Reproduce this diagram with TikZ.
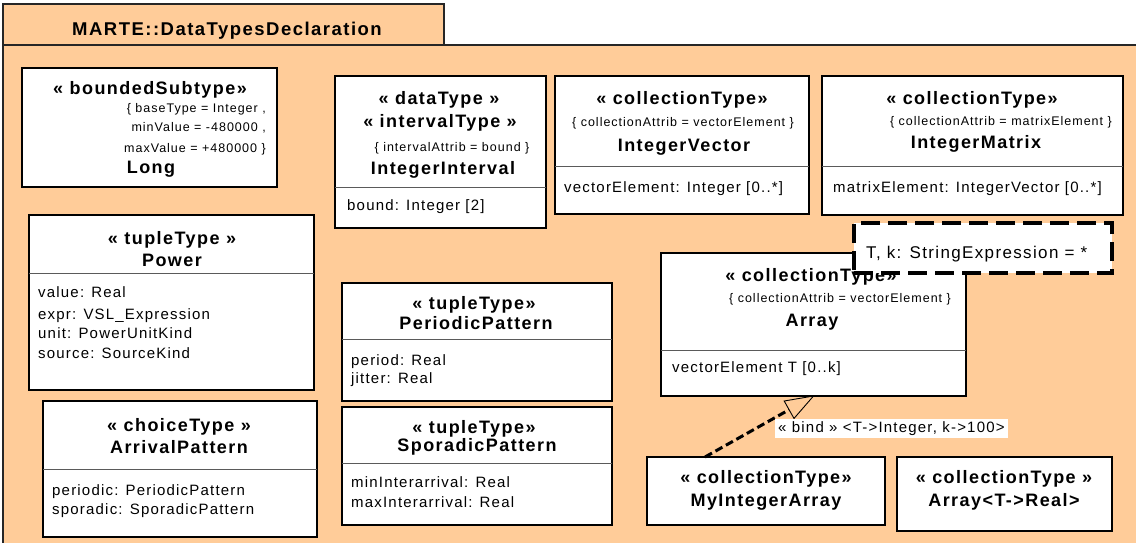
\documentclass[tikz,border=0pt]{standalone}
\usepackage{fontspec}
\setmainfont{Liberation Sans}[LetterSpace=8]
\usetikzlibrary{calc}
\definecolor{peach}{RGB}{255,204,153}
\definecolor{divgray}{RGB}{90,90,90}
\newcommand{\umlbox}[5]{\node[umlrect, minimum width={#4-#2}, minimum height={#5-#3}] (#1) at (#2,#3) {};}
\newcommand{\umldiv}[2]{\draw[divline] (#1.west |- 0,#2) -- (#1.east |- 0,#2);}
\begin{document}
\begin{tikzpicture}[x=1pt,y=-1pt,
  umlrect/.style={draw=black, line width=1.4pt, fill=white, inner sep=0pt, outer sep=0pt, anchor=north west},
  divline/.style={draw=divgray, line width=1pt},
  pkg/.style={draw=black!85, line width=1.4pt, fill=peach, inner sep=0pt, outer sep=0pt, anchor=north west},
  ster/.style={font=\fontsize{18}{20}\selectfont\bfseries, anchor=base, yshift=-6.5pt, inner sep=0pt},
  attr/.style={font=\fontsize{15}{18}\selectfont, anchor=base west, yshift=-5.4pt, inner sep=0pt},
  cons/.style={font=\fontsize{12.5}{14}\selectfont, anchor=base, yshift=-4.5pt, inner sep=0pt},
  consr/.style={cons, anchor=base east},
  tmplbox/.style={draw=black, line width=3.5pt, dash pattern=on 19pt off 8pt, fill=white, inner sep=0pt, outer sep=0pt, anchor=north west},
  bindline/.style={draw=black, line width=3pt, dash pattern=on 8pt off 4pt},
  bindlbl/.style={fill=white, font=\fontsize{15}{18}\selectfont, anchor=west, inner xsep=3pt, inner ysep=0pt, text height=14pt, text depth=5pt}
]
\useasboundingbox (0,0) rectangle (1136,543);
% package frame
\node[pkg, minimum width=1250, minimum height=600] (frame) at (3,45) {};
\node[pkg, minimum width=441, minimum height=41] (tab) at (3,4) {};
\node[font=\fontsize{18.5}{20}\selectfont\bfseries, anchor=base, yshift=-6.7pt, inner sep=0pt] (title) at (227,29) {MARTE::DataTypesDeclaration};

% Long
\umlbox{long}{22}{68}{277}{187}
\node[ster] (long-s) at (150,88) {« boundedSubtype»};
\node[consr] (long-c1) at (266,108) {\{ baseType = Integer ,};
\node[consr] (long-c2) at (266,127) {minValue = -480000 ,};
\node[consr] (long-c3) at (266,148) {maxValue = +480000 \}};
\node[ster] (long-n) at (151,167) {Long};

% IntegerInterval
\umlbox{iint}{335}{76}{546}{228}
\umldiv{iint}{187}
\node[ster] (iint-s1) at (439,98) {« dataType »};
\node[ster] (iint-s2) at (440,121) {« intervalType »};
\node[cons] (iint-c) at (452,147) {\{ intervalAttrib = bound \}};
\node[ster] (iint-n) at (443,168) {IntegerInterval};
\node[attr] (iint-a) at (347,205) {bound: Integer [2]};

% IntegerVector
\umlbox{ivec}{555}{76}{809}{214}
\umldiv{ivec}{166}
\node[ster] (ivec-s) at (682,98) {« collectionType»};
\node[cons] (ivec-c) at (683,122) {\{ collectionAttrib = vectorElement \}};
\node[ster] (ivec-n) at (684,145) {IntegerVector};
\node[attr] (ivec-a) at (564,187) {vectorElement: Integer [0..*]};

% IntegerMatrix
\umlbox{imat}{822}{76}{1123}{215}
\umldiv{imat}{166}
\node[ster] (imat-s) at (972,98) {« collectionType»};
\node[consr] (imat-c) at (1112,121) {\{ collectionAttrib = matrixElement \}};
\node[ster] (imat-n) at (976,142) {IntegerMatrix};
\node[attr] (imat-a) at (833,187) {matrixElement: IntegerVector [0..*]};

% Power
\umlbox{power}{29}{215}{314}{390}
\umldiv{power}{273}
\node[ster] (power-s) at (172,238) {« tupleType »};
\node[ster] (power-n) at (172,260) {Power};
\node[attr] (power-a1) at (38,292) {value: Real};
\node[attr] (power-a2) at (38,314) {expr: VSL\_Expression};
\node[attr] (power-a3) at (38,333) {unit: PowerUnitKind};
\node[attr] (power-a4) at (38,353) {source: SourceKind};

% PeriodicPattern
\umlbox{period}{342}{283}{612}{401}
\umldiv{period}{339}
\node[ster] (period-s) at (474,303) {« tupleType»};
\node[ster] (period-n) at (476,323) {PeriodicPattern};
\node[attr] (period-a1) at (351,360) {period: Real};
\node[attr] (period-a2) at (351,378) {jitter: Real};

% SporadicPattern
\umlbox{spor}{342}{407}{612}{525}
\umldiv{spor}{463}
\node[ster] (spor-s) at (474,427) {« tupleType»};
\node[ster] (spor-n) at (477,445) {SporadicPattern};
\node[attr] (spor-a1) at (351,482) {minInterarrival: Real};
\node[attr] (spor-a2) at (351,502) {maxInterarrival: Real};

% ArrivalPattern
\umlbox{arrp}{43}{401}{317}{537}
\umldiv{arrp}{469}
\node[ster] (arrp-s) at (179,425) {« choiceType »};
\node[ster] (arrp-n) at (179,447) {ArrivalPattern};
\node[attr] (arrp-a1) at (52,490) {periodic: PeriodicPattern};
\node[attr] (arrp-a2) at (52,509) {sporadic: SporadicPattern};

% Array
\umlbox{arr}{661}{253}{966}{396}
\umldiv{arr}{350}
\node[ster] (arr-s) at (811,275) {« collectionType»};
\node[cons] (arr-c) at (840,298) {\{ collectionAttrib = vectorElement \}};
\node[ster] (arr-n) at (812,320) {Array};
\node[attr] (arr-a) at (672,367) {vectorElement T [0..k]};

% template parameter box
\node[tmplbox, minimum width=258, minimum height=50] (tmpl) at (854,223) {};
\node[font=\fontsize{17}{19}\selectfont, anchor=base west, yshift=-6pt, inner sep=0pt] (tmpl-t) at (866,252) {T, k: StringExpression = *};

% MyIntegerArray
\umlbox{myarr}{647}{457}{885}{525}
\node[ster] (myarr-s) at (766,477) {« collectionType»};
\node[ster] (myarr-n) at (766,500) {MyIntegerArray};

% Array<T->Real>
\umlbox{arreal}{897}{457}{1112}{531}
\node[ster] (arreal-s) at (1004,477) {« collectionType »};
\node[ster] (arreal-n) at (1004,500) {Array<T->Real>};

% bind connector
\coordinate (bindS) at ($(myarr.north west)+(58,0)$);
\coordinate (bindT) at (arr.south);
\coordinate (bindB) at ($(bindT)!28pt!(bindS)$);
\draw[bindline] (bindS) -- (bindB);
\draw[line width=0.9pt, line join=miter] (bindT) -- ($(bindB)!10pt!90:(bindT)$) -- ($(bindB)!10pt!-90:(bindT)$) -- cycle;
\node[bindlbl] (bind) at (775,428) {« bind » <T->Integer, k->100>};
\end{tikzpicture}
\end{document}
